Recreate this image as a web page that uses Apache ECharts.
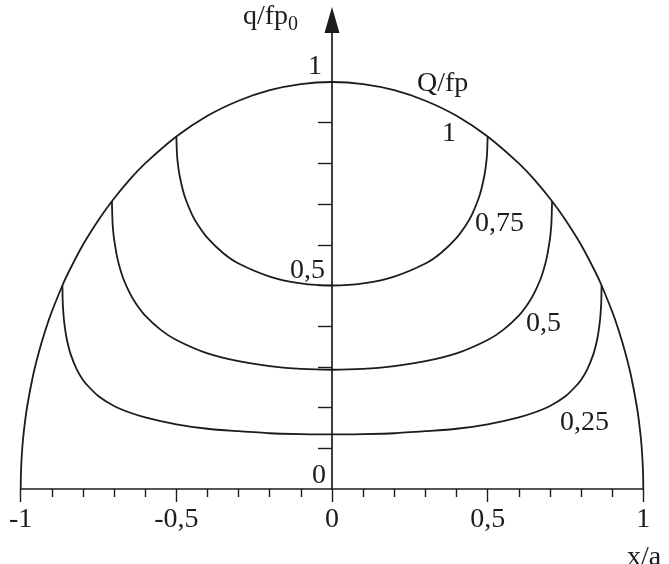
<!DOCTYPE html>
<html>
<head>
<meta charset="utf-8">
<script src="https://cdn.jsdelivr.net/npm/echarts@6/dist/echarts.min.js"></script>
<style>
html,body{margin:0;padding:0;background:#fff;}
#chart{width:669px;height:564px;}
</style>
</head>
<body>
<div id="chart"></div>
<script>
// ---- data (x/a , q/fp0) ----
const outerCurve = [
  [-1,0],[-0.999,0.045],[-0.995,0.100],[-0.99,0.141],[-0.98,0.199],[-0.96,0.280],[-0.94,0.341],
  [-0.92,0.392],[-0.9,0.436],[-0.866,0.5],[-0.85,0.527],[-0.8,0.6],[-0.75,0.661],[-0.707,0.707],
  [-0.65,0.760],[-0.6,0.8],[-0.5,0.866],[-0.4,0.917],[-0.3,0.954],[-0.2,0.980],[-0.1,0.995],
  [0,1],
  [0.1,0.995],[0.2,0.980],[0.3,0.954],[0.4,0.917],[0.5,0.866],[0.6,0.8],[0.65,0.760],
  [0.707,0.707],[0.75,0.661],[0.8,0.6],[0.85,0.527],[0.866,0.5],[0.9,0.436],[0.92,0.392],
  [0.94,0.341],[0.96,0.280],[0.98,0.199],[0.99,0.141],[0.995,0.100],[0.999,0.045],[1,0]
];
const curve075 = [
  [-0.5,0.866],[-0.498,0.823],[-0.495,0.798],[-0.49,0.772],[-0.48,0.737],[-0.47,0.712],
  [-0.45,0.675],[-0.43,0.648],[-0.4,0.617],[-0.35,0.580],[-0.3,0.554],[-0.2,0.522],[-0.1,0.505],
  [0,0.5],
  [0.1,0.505],[0.2,0.522],[0.3,0.554],[0.35,0.580],[0.4,0.617],[0.43,0.648],[0.45,0.675],
  [0.47,0.712],[0.48,0.737],[0.49,0.772],[0.495,0.798],[0.498,0.823],[0.5,0.866]
];
const curve05 = [
  [-0.707,0.707],[-0.705,0.655],[-0.703,0.635],[-0.7,0.614],[-0.69,0.569],[-0.68,0.539],
  [-0.67,0.516],[-0.65,0.482],[-0.63,0.456],[-0.6,0.426],[-0.55,0.391],[-0.5,0.366],
  [-0.4,0.333],[-0.3,0.314],[-0.2,0.302],[-0.1,0.295],
  [0,0.293],
  [0.1,0.295],[0.2,0.302],[0.3,0.314],[0.4,0.333],[0.5,0.366],[0.55,0.391],[0.6,0.426],
  [0.63,0.456],[0.65,0.482],[0.67,0.516],[0.68,0.539],[0.69,0.569],[0.7,0.614],
  [0.703,0.635],[0.705,0.655],[0.707,0.707]
];
const curve025 = [
  [-0.866,0.5],[-0.865,0.460],[-0.863,0.433],[-0.86,0.408],[-0.855,0.381],[-0.85,0.361],
  [-0.84,0.332],[-0.82,0.294],[-0.8,0.268],[-0.78,0.250],[-0.75,0.228],[-0.7,0.204],
  [-0.65,0.188],[-0.6,0.176],[-0.5,0.159],[-0.4,0.148],[-0.3,0.142],[-0.2,0.137],[-0.1,0.135],
  [0,0.134],
  [0.1,0.135],[0.2,0.137],[0.3,0.142],[0.4,0.148],[0.5,0.159],[0.6,0.176],[0.65,0.188],
  [0.7,0.204],[0.75,0.228],[0.78,0.250],[0.8,0.268],[0.82,0.294],[0.84,0.332],[0.85,0.361],
  [0.855,0.381],[0.86,0.408],[0.863,0.433],[0.865,0.460],[0.866,0.5]
];
const xTickLabels = [-1, -0.5, 0, 0.5, 1];
const yTickLabels = [0, 0.5, 1];
const yTicks = [0.1, 0.2, 0.3, 0.4, 0.5, 0.6, 0.7, 0.8, 0.9];
const curveLabels = ['Q/fp', '1', '0,75', '0,5', '0,25'];

const INK = '#1c1c1c';
const FONT = 'Liberation Serif';
const F28 = '28px "' + FONT + '"';
const fmt = v => String(v).replace('.', ',');

const chart = echarts.init(document.getElementById('chart'), null, {renderer: 'canvas'});
const lineStyle = {color: INK, width: 1.8};
function curveSeries(d) {
  return {type: 'line', data: d, showSymbol: false, symbol: 'none', lineStyle: lineStyle,
          smooth: 0.25, silent: true, animation: false, z: 3};
}
const Y_MAX = 1.1523;
chart.setOption({
  backgroundColor: '#fff',
  animation: false,
  grid: {left: 20.7, right: 25.7, top: 20, bottom: 75, containLabel: false, outerBoundsMode: 'none'},
  xAxis: {
    type: 'value', min: -1, max: 1, interval: 0.5,
    axisLine: {onZero: true, lineStyle: {color: INK, width: 1.7}},
    axisTick: {show: true, inside: false, length: 13, lineStyle: {color: INK, width: 1.4}},
    minorTick: {show: true, splitNumber: 5, length: 8, lineStyle: {color: INK, width: 1.4}},
    splitLine: {show: false}, minorSplitLine: {show: false},
    axisLabel: {customValues: xTickLabels, formatter: fmt, color: INK, fontFamily: FONT,
                fontSize: 28, margin: 17}
  },
  yAxis: {
    type: 'value', min: 0, max: Y_MAX,
    axisLine: {onZero: true, lineStyle: {color: INK, width: 1.7},
               symbol: ['none', 'triangle'], symbolSize: [15, 26]},
    axisTick: {show: true, inside: false, length: 14, customValues: yTicks,
               lineStyle: {color: INK, width: 1.4}},
    splitLine: {show: false},
    axisLabel: {show: false}
  },
  series: [curveSeries(outerCurve), curveSeries(curve075), curveSeries(curve05), curveSeries(curve025)],
  graphic: [
    {type: 'text', x: 322, y: 53, style: {text: fmt(yTickLabels[2]), font: F28, fill: INK, align: 'right', verticalAlign: 'top'}},
    {type: 'text', x: 325, y: 257, style: {text: fmt(yTickLabels[1]), font: F28, fill: INK, align: 'right', verticalAlign: 'top'}},
    {type: 'text', x: 326, y: 462, style: {text: fmt(yTickLabels[0]), font: F28, fill: INK, align: 'right', verticalAlign: 'top'}},
    {type: 'text', x: 243, y: 3, style: {text: 'q/fp', font: F28, fill: INK}},
    {type: 'text', x: 288, y: 15, style: {text: '0', font: '20px "' + FONT + '"', fill: INK}},
    {type: 'text', x: 417, y: 70, style: {text: curveLabels[0], font: F28, fill: INK}},
    {type: 'text', x: 442, y: 120, style: {text: curveLabels[1], font: F28, fill: INK}},
    {type: 'text', x: 475, y: 210, style: {text: curveLabels[2], font: F28, fill: INK}},
    {type: 'text', x: 526, y: 310, style: {text: curveLabels[3], font: F28, fill: INK}},
    {type: 'text', x: 560, y: 409, style: {text: curveLabels[4], font: F28, fill: INK}},
    {type: 'text', x: 627, y: 544, style: {text: 'x/a', font: F28, fill: INK}}
  ]
});
</script>
</body>
</html>
